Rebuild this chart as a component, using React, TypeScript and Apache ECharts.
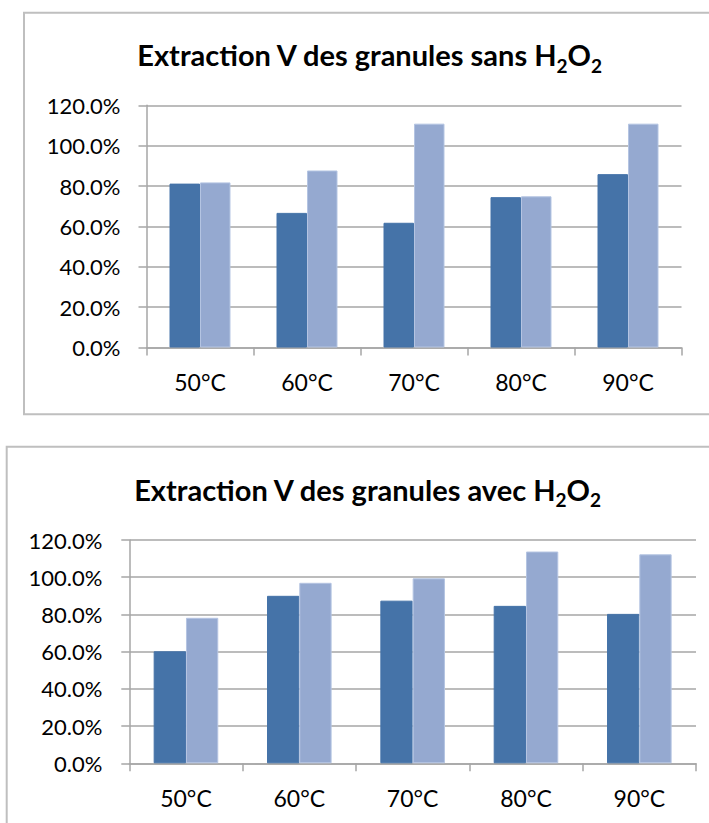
import React, { useEffect, useRef } from "react";
import * as echarts from "echarts";

const categories = ["50°C", "60°C", "70°C", "80°C", "90°C"];
const yTicks = [0, 0.2, 0.4, 0.6, 0.8, 1.0, 1.2];

// title pieces: [text, isSubscript]
const topTitleParts: [string, boolean][] = [
  ["Extraction V des granules sans H", false],
  ["2", true],
  ["O", false],
  ["2", true],
];
const topDark = [0.812, 0.667, 0.618, 0.745, 0.859];
const topLight = [0.818, 0.877, 1.109, 0.749, 1.109];

const bottomTitleParts: [string, boolean][] = [
  ["Extraction V des granules avec H", false],
  ["2", true],
  ["O", false],
  ["2", true],
];
const bottomDark = [0.602, 0.9, 0.874, 0.846, 0.803];
const bottomLight = [0.782, 0.97, 0.994, 1.138, 1.123];

const DARK = "#4573a8";
const LIGHT = "#95a9d0";
const GRID = "#a6a6a6";
const FONT = "Lato, 'Open Sans', sans-serif";
const TITLE_SIZE = 29;
const SUB_SIZE = 19;

export default function App() {
  const ref = useRef<HTMLDivElement>(null);
  useEffect(() => {
    const chart = echarts.init(ref.current!, null, { renderer: "svg" });
    const ctx = document.createElement("canvas").getContext("2d")!;
    const measure = (t: string, size: number) => {
      ctx.font = `bold ${size}px ${FONT}`;
      return ctx.measureText(t).width;
    };
    // first part is right-aligned at the anchor; the short tail (subscripts, O) follows it
    const titleGraphic = (parts: [string, boolean][], xEnd: number, cy: number) => {
      const tail = parts.slice(1);
      const tailW = tail.reduce((s, [t, sub]) => s + measure(t, sub ? SUB_SIZE : TITLE_SIZE), 0);
      const anchor = xEnd - tailW;
      const mk = (t: string, sub: boolean, x: number, align: string) => ({
        type: "text",
        x,
        y: sub ? cy + 10.5 : cy,
        style: {
          text: t,
          fontFamily: FONT,
          fontWeight: "bold",
          fontSize: sub ? SUB_SIZE : TITLE_SIZE,
          fill: "#000",
          align,
          verticalAlign: "middle",
        },
      });
      const children: any[] = [mk(parts[0][0], parts[0][1], anchor, "right")];
      let cx = anchor;
      for (const [t, sub] of tail) {
        children.push(mk(t, sub, cx, "left"));
        cx += measure(t, sub ? SUB_SIZE : TITLE_SIZE);
      }
      return { type: "group", children };
    };
    const xAxisCommon = (gridIndex: number) => ({
      type: "category" as const,
      gridIndex,
      data: categories,
      axisLine: { show: true, lineStyle: { color: GRID, width: 1.5 } },
      axisTick: { show: true, length: 8, alignWithLabel: false, lineStyle: { color: GRID, width: 1.5 } },
      axisLabel: { color: "#000", fontFamily: FONT, fontSize: 23, margin: 23 },
      splitLine: { show: false },
    });
    const yAxisCommon = (gridIndex: number, margin: number) => ({
      type: "value" as const,
      gridIndex,
      min: 0,
      max: 1.2,
      interval: 0.2,
      axisLine: { show: true, lineStyle: { color: GRID, width: 1.5 } },
      axisTick: { show: true, length: 8, lineStyle: { color: GRID, width: 1.5 } },
      axisLabel: {
        color: "#000",
        fontFamily: FONT,
        fontSize: 22,
        margin,
        formatter: (v: number) => (yTicks.some((t) => Math.abs(t - v) < 1e-9) ? (v * 100).toFixed(1) + "%" : ""),
      },
      splitLine: { show: true, lineStyle: { color: GRID, width: 1.5 } },
    });
    const bar = (name: string, data: number[], color: string, idx: number, border: string) => ({
      type: "bar" as const,
      name,
      data,
      xAxisIndex: idx,
      yAxisIndex: idx,
      barGap: "0%",
      barCategoryGap: "43%",
      itemStyle: { color, borderColor: border, borderWidth: 1 },
    });
    chart.setOption({
      animation: false,
      backgroundColor: "#fff",
      grid: [
        { left: 146.5, top: 105.3, width: 535, height: 242.2 },
        { left: 129.3, top: 540, width: 566.7, height: 223.3 },
      ],
      xAxis: [xAxisCommon(0), xAxisCommon(1)],
      yAxis: [yAxisCommon(0, 26), yAxisCommon(1, 27)],
      series: [
        bar("Série 1", topDark, DARK, 0, DARK),
        bar("Série 2", topLight, LIGHT, 0, "#b4c4e2"),
        bar("Série 1", bottomDark, DARK, 1, DARK),
        bar("Série 2", bottomLight, LIGHT, 1, "#b4c4e2"),
      ],
      graphic: [
        titleGraphic(topTitleParts, 602, 54.5),
        titleGraphic(bottomTitleParts, 601, 489),
        {
          type: "rect",
          shape: { x: 24, y: 12.7, width: 720, height: 401.6 },
          style: { fill: "none", stroke: "#bfbfbf", lineWidth: 2 },
          z: 100,
        },
        {
          type: "rect",
          shape: { x: 6.7, y: 446.7, width: 720, height: 420 },
          style: { fill: "none", stroke: "#bfbfbf", lineWidth: 2 },
          z: 100,
        },
      ],
    });
    return () => chart.dispose();
  }, []);
  return (
    <div
      ref={ref}
      style={{ position: "fixed", left: 0, top: 0, width: 709, height: 823 }}
    />
  );
}
